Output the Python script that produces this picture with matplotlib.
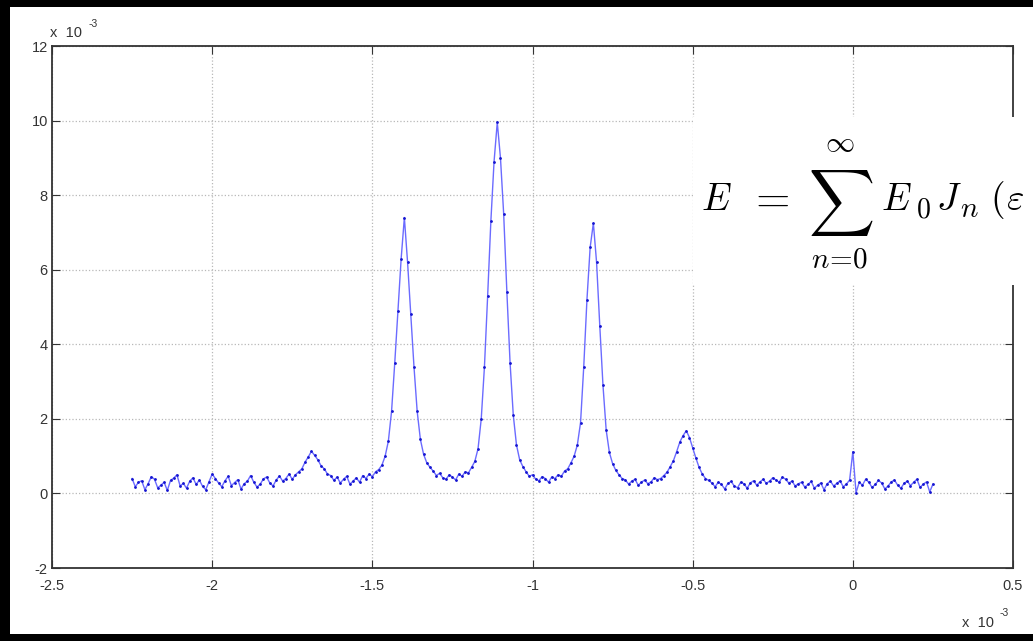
import numpy as np
import matplotlib.pyplot as plt
from matplotlib.patches import Rectangle

# ===========================
# Data (x and y both in units of 1e-3)
x_start = -2.25
x_step = 0.01
signal = [
    0.40, 0.18, 0.30, 0.34, 0.10, 0.26, 0.45, 0.38, 0.15, 0.22,
    0.30, 0.08, 0.35, 0.41, 0.50, 0.20, 0.27, 0.14, 0.33, 0.42,
    0.24, 0.36, 0.19, 0.10, 0.31, 0.52, 0.40, 0.28, 0.18, 0.34,
    0.46, 0.21, 0.29, 0.37, 0.12, 0.26, 0.33, 0.48, 0.30, 0.17,
    0.25, 0.39, 0.44, 0.28, 0.20, 0.36, 0.47, 0.33, 0.40, 0.52,
    0.38, 0.50, 0.58, 0.66, 0.84, 0.98, 1.13, 1.02, 0.90, 0.74,
    0.66, 0.52, 0.48, 0.35, 0.44, 0.28, 0.38, 0.46, 0.25, 0.33,
    0.42, 0.30, 0.48, 0.40, 0.52, 0.45, 0.58, 0.64, 0.76, 1.00,
    1.40, 2.20, 3.50, 4.90, 6.30, 7.40, 6.20, 4.80, 3.40, 2.20,
    1.45, 1.05, 0.82, 0.70, 0.60, 0.48, 0.54, 0.42, 0.38, 0.50,
    0.44, 0.36, 0.52, 0.46, 0.58, 0.55, 0.70, 0.86, 1.20, 2.00,
    3.40, 5.30, 7.30, 8.90, 9.95, 9.00, 7.50, 5.40, 3.50, 2.10,
    1.30, 0.90, 0.72, 0.58, 0.46, 0.50, 0.38, 0.34, 0.45, 0.40,
    0.30, 0.44, 0.40, 0.50, 0.46, 0.60, 0.66, 0.82, 1.00, 1.30,
    1.90, 3.40, 5.20, 6.60, 7.25, 6.20, 4.50, 2.90, 1.70, 1.10,
    0.80, 0.62, 0.50, 0.40, 0.36, 0.25, 0.33, 0.38, 0.22, 0.30,
    0.36, 0.26, 0.31, 0.42, 0.37, 0.40, 0.48, 0.57, 0.72, 0.88,
    1.12, 1.38, 1.55, 1.68, 1.50, 1.22, 0.95, 0.70, 0.52, 0.40,
    0.35, 0.28, 0.18, 0.30, 0.24, 0.12, 0.27, 0.32, 0.20, 0.15,
    0.30, 0.26, 0.14, 0.28, 0.34, 0.22, 0.31, 0.38, 0.27, 0.33,
    0.42, 0.36, 0.30, 0.44, 0.38, 0.28, 0.33, 0.20, 0.26, 0.30,
    0.17, 0.24, 0.32, 0.14, 0.22, 0.28, 0.10, 0.26, 0.33, 0.20,
    0.27, 0.34, 0.18, 0.25, 0.36, 1.12, 0.02, 0.30, 0.22, 0.38,
    0.30, 0.16, 0.24, 0.35, 0.28, 0.12, 0.20, 0.31, 0.36, 0.22,
    0.14, 0.27, 0.33, 0.21, 0.30, 0.38, 0.16, 0.25, 0.31, 0.04,
    0.25,
]
xticks = [-2.5, -2, -1.5, -1, -0.5, 0, 0.5]
xticklabels = ['-2.5', '-2', '-1.5', '-1', '-0.5', '0', '0.5']
yticks = [-2, 0, 2, 4, 6, 8, 10, 12]
yticklabels = ['-2', '0', '2', '4', '6', '8', '10', '12']

x_val = x_start + x_step * np.arange(len(signal))

# ===========================
W, H = 1033, 641
plt.rcParams['font.family'] = ['Liberation Sans', 'DejaVu Sans']
fig = plt.figure(figsize=(W / 100, H / 100), dpi=100, facecolor='black')

def px(x, y):
    # pixel position (from top-left) -> figure fraction
    return x / W, 1 - y / H

# white page inside the black frame
fig.patches.append(Rectangle((10 / W, 7 / H), 1 - 10 / W, 1 - 14 / H,
                             transform=fig.transFigure, facecolor='white',
                             edgecolor='none', zorder=-1))

ax = fig.add_axes([52 / W, (H - 568) / H, (1013 - 52) / W, (568 - 46) / H])
ax.plot(x_val, signal, '-', color='#6b6bff', lw=1.0)
ax.plot(x_val, signal, '.', color='#1515d0', ms=2.0)

ax.set_xlim(-2.5, 0.5)
ax.set_ylim(-2, 12)
ax.set_xticks(xticks)
ax.set_xticklabels(xticklabels)
ax.set_yticks(yticks)
ax.set_yticklabels(yticklabels)
ax.tick_params(direction='in', length=6, width=0.8, color='#333333',
               top=True, right=True, labelsize=10.5, labelcolor='#333333')
ax.tick_params(axis='x', pad=8)
ax.tick_params(axis='y', pad=3)
ax.grid(True, linestyle=':', color='#b8b8b8', lw=0.9)
for s in ax.spines.values():
    s.set_color('#333333')
    s.set_linewidth(1.3)

# exponent labels, MATLAB style
fig.text(*px(50, 37), 'x  10', fontsize=10.5, color='#333333', va='baseline')
fig.text(*px(89, 27), '-3', fontsize=7.5, color='#333333', va='baseline')
fig.text(*px(962, 627), 'x  10', fontsize=10.5, color='#333333', va='baseline')
fig.text(*px(1000, 616), '-3', fontsize=7.5, color='#333333', va='baseline')

# formula pasted on a white box over the right part of the plot
fig.patches.append(Rectangle((693 / W, 1 - 285 / H), 1 - 693 / W, (285 - 117) / H,
                             transform=fig.transFigure, facecolor='white',
                             edgecolor='none', zorder=5))
fkw = dict(math_fontfamily='cm', zorder=6, color='black')
fig.text(*px(701, 210), r'$E$', fontsize=27, va='baseline', **fkw)
fig.text(*px(748, 211), r'$=$', fontsize=32, va='baseline', **fkw)
fig.text(*px(841, 203), r'$\sum$', fontsize=33, va='center', ha='center', **fkw)
fig.text(*px(840, 143), r'$\infty$', fontsize=21, va='center', ha='center', **fkw)
fig.text(*px(840, 267), r'$n\!=\!0$', fontsize=21, va='baseline', ha='center', **fkw)
fig.text(*px(881, 210), r'$E$', fontsize=27, va='baseline', **fkw)
fig.text(*px(916, 218), r'$0$', fontsize=20, va='baseline', **fkw)
fig.text(*px(936, 210), r'$J$', fontsize=27, va='baseline', **fkw)
fig.text(*px(960, 217), r'$n$', fontsize=21, va='baseline', **fkw)
fig.text(*px(990, 210), r'$($', fontsize=27, va='baseline', **fkw)
fig.text(*px(1006, 210), r'$\varepsilon$', fontsize=27, va='baseline', **fkw)

fig.savefig('out.png', dpi=100, facecolor='black')
